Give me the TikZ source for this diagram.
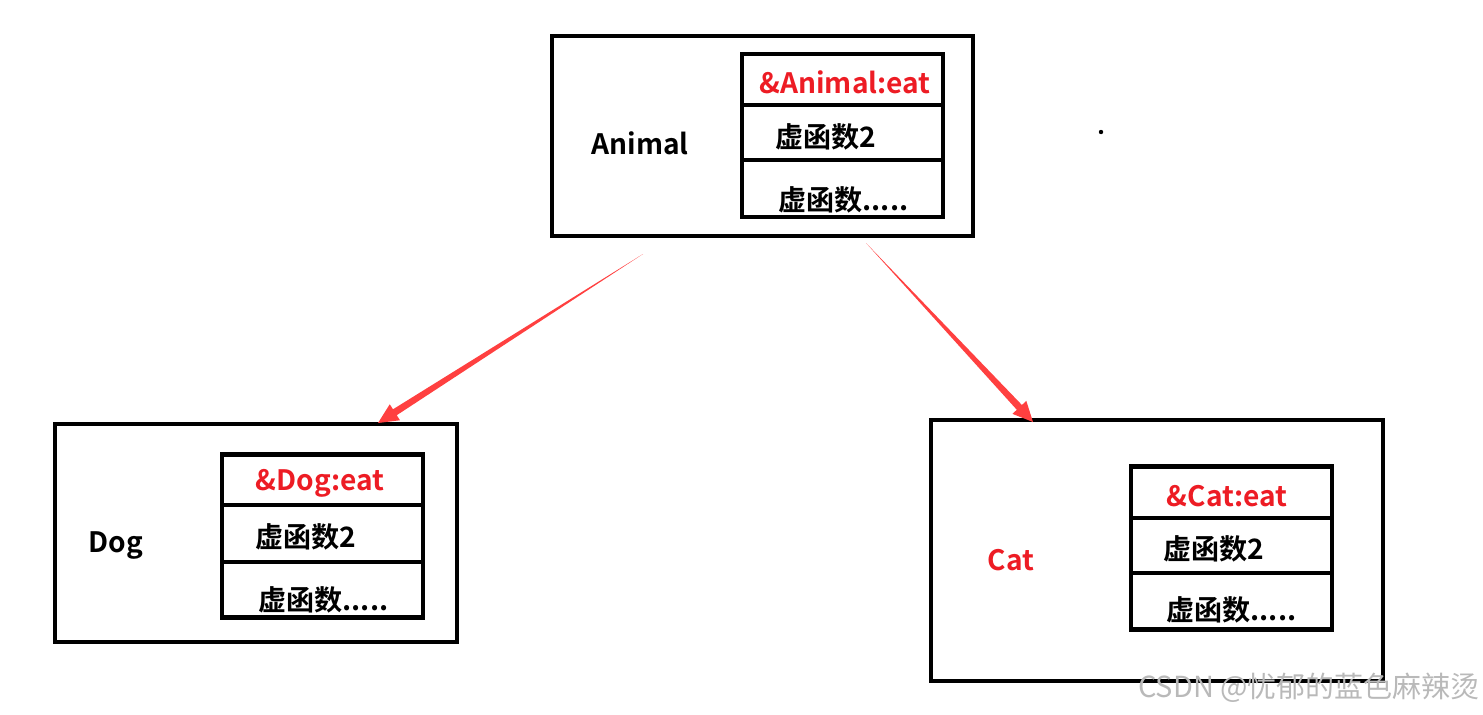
\documentclass[tikz,border=0pt]{standalone}
\usepackage{fontspec}
\setmainfont{Noto Sans CJK SC}[BoldFont={Noto Sans CJK SC Bold}]
\usepackage{xcolor}
\usetikzlibrary{arrows.meta,calc}
\definecolor{eatred}{HTML}{ED1C24}
\definecolor{arrowred}{HTML}{FF4040}
\tikzset{
  line join=round,
  objbox/.style 2 args={draw, line width=2.6pt, minimum width=#1, minimum height=#2, inner sep=0pt, outer sep=0pt},
  vtable/.style={draw, line width=2.6pt, minimum width=4.02cm, minimum height=3.26cm, inner sep=0pt, outer sep=0pt},
  divider/.style={line width=2.6pt},
  txt/.style={font=\fontsize{16}{19}\selectfont\bfseries, inner sep=0pt},
  entry/.style={txt, anchor=west},
  redtxt/.style={txt, text=eatred},
  inherit/.style={fill=arrowred},
  watermark/.style={font=\fontsize{16.5}{19}\selectfont, text=gray!55, inner sep=0pt}
}
% arrow whose shaft widens towards the head
\newcommand{\taperarrow}[2]{%
  \coordinate (hb) at ($(#2)!0.4cm!(#1)$);
  \fill[inherit] (#1) -- ($(hb)!0.07cm!90:(#1)$) -- ($(hb)!0.19cm!90:(#1)$) -- (#2)
    -- ($(hb)!0.19cm!-90:(#1)$) -- ($(hb)!0.07cm!-90:(#1)$) -- cycle;
}
\begin{document}
\begin{tikzpicture}[x=0.02cm, y=-0.02cm]
  \useasboundingbox (0,0) rectangle (1483,714);

  % base class
  \node[objbox={8.42cm}{4cm}] (animal) at (762.5,136) {};
  \node[vtable] (animalvt) at (842.5,135.5) {};
  \draw[divider] (animalvt.west |- 0,105) -- (animalvt.east |- 0,105);
  \draw[divider] (animalvt.west |- 0,160) -- (animalvt.east |- 0,160);
  \node[txt] (animalname) at (640,143) {Animal};
  \node[redtxt] (animaleat) at (845,82) {\&Animal:eat};
  \node[entry] (animalf2) at (775,137) {虚函数2};
  \node[entry] (animalfn) at (778,200) {虚函数.....};

  % derived class Dog
  \node[objbox={8.04cm}{4.36cm}] (dog) at (256,533) {};
  \node[vtable] (dogvt) at (322.5,536) {};
  \draw[divider] (dogvt.west |- 0,505) -- (dogvt.east |- 0,505);
  \draw[divider] (dogvt.west |- 0,562) -- (dogvt.east |- 0,562);
  \node[txt] (dogname) at (116,545) {Dog};
  \node[redtxt] (dogeat) at (320,483) {\&Dog:eat};
  \node[entry] (dogf2) at (255,537) {虚函数2};
  \node[entry] (dogfn) at (258,600) {虚函数.....};

  % derived class Cat
  \node[objbox={9.04cm}{5.22cm}] (cat) at (1157,550.5) {};
  \node[vtable] (catvt) at (1231.5,548) {};
  \draw[divider] (catvt.west |- 0,518) -- (catvt.east |- 0,518);
  \draw[divider] (catvt.west |- 0,573) -- (catvt.east |- 0,573);
  \node[redtxt] (catname) at (1011,560) {Cat};
  \node[redtxt] (cateat) at (1227,496) {\&Cat:eat};
  \node[entry] (catf2) at (1163,549) {虚函数2};
  \node[entry] (catfn) at (1166,610) {虚函数.....};

  % arrows
  \coordinate (fromL) at (643,254);
  \coordinate (fromR) at (866,243);
  \coordinate (dogtip) at (378,423);
  \coordinate (cattip) at (1033,422);
  \taperarrow{fromL}{dogtip}
  \taperarrow{fromR}{cattip}

  \fill (1101,132) circle (2.2);
  \node[watermark] (wm) at (1309,688) {CSDN @忧郁的蓝色麻辣烫};
\end{tikzpicture}
\end{document}
